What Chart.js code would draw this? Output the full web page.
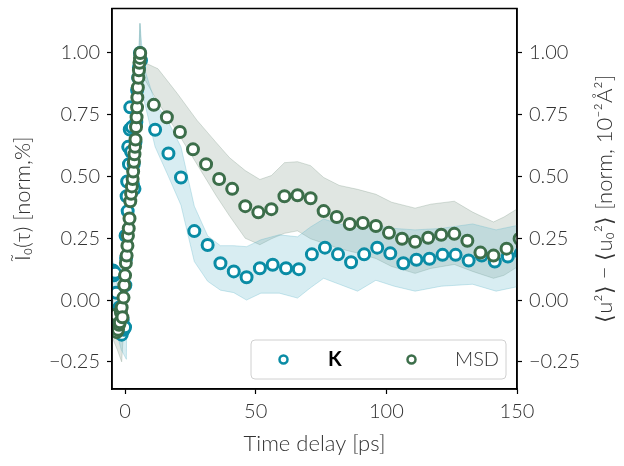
<!DOCTYPE html>
<html lang="en">
<head>
    <meta charset="UTF-8">
    <title>Time delay chart</title>
    <script src="https://cdn.jsdelivr.net/npm/chart.js"></script>
    <style>
        html, body { margin: 0; padding: 0; background: #fff; }
        #wrap { width: 624px; height: 466px; }
    </style>
</head>
<body>
    <div id="wrap"><canvas id="chart" width="624" height="466"></canvas></div>

    <script>
        // K series (blue)
        const kTime = [-4.6, -4.2, -3.8, -3.4, -3.0, -2.6, -2.2, -1.8, -1.3, -0.9, -0.5, 0.0, 0.1, 0.2, 0.4, 0.6, 0.8, 1.0, 1.2, 1.5,
            1.8, 2.0, 2.3, 2.6, 3.0, 3.3, 3.6, 4.0, 4.3, 4.6, 5.0, 5.3, 5.7, 6.1,
            11.5, 16.6, 21.4, 26.5, 31.6, 36.5, 41.6, 46.5, 51.6, 56.5, 61.6, 66.5, 71.5, 76.5, 81.5, 86.5,
            91.5, 96.5, 101.5, 106.5, 111.5, 116.5, 121.5, 126.5, 131.5, 136.5, 141.5, 146.5, 151.5];
        const kValue = [0.12, 0.10, 0.11, 0.03, -0.05, -0.10, -0.03, -0.12, -0.14, -0.08, -0.12, -0.11, 0.06, 0.26, 0.17, 0.42, 0.48, 0.36, 0.62, 0.55,
            0.69, 0.78, 0.60, 0.70, 0.47, 0.55, 0.45, 0.64, 0.72, 0.85, 0.90, 0.94, 1.00, 0.97,
            0.689, 0.593, 0.496, 0.279, 0.223, 0.149, 0.116, 0.092, 0.129, 0.143, 0.129, 0.125, 0.185, 0.212, 0.185, 0.153,
            0.185, 0.212, 0.189, 0.149, 0.163, 0.167, 0.183, 0.183, 0.160, 0.180, 0.156, 0.176, 0.190];

        // MSD series (green)
        const msdTime = [-3.8, -3.2, -2.7, -2.3, -2.0, -1.6, -1.3, -1.0, -0.6, -0.3, 0.0, 0.3, 0.6, 0.9, 1.1, 1.4, 1.7,
            2.0, 2.3, 2.6, 2.9, 3.1, 3.4, 3.6, 3.8, 4.0, 4.2, 4.4, 4.6, 4.7, 4.9, 5.1, 5.3, 5.5, 5.7, 5.8,
            11, 16, 21, 26, 31, 36, 41, 46, 51, 56, 61, 66, 71, 76, 81, 86, 91, 96, 101, 106,
            111, 116, 121, 126, 131, 136, 141, 146, 151];
        const msdValue = [-0.06, -0.13, -0.12, -0.10, -0.09, -0.05, -0.03, -0.07, 0.01, 0.06, 0.10, 0.15, 0.18, 0.22, 0.26, 0.29, 0.33,
            0.40, 0.43, 0.46, 0.49, 0.52, 0.56, 0.59, 0.62, 0.65, 0.70, 0.74, 0.78, 0.82, 0.86, 0.90, 0.93, 0.96, 0.98, 1.00,
            0.79, 0.74, 0.68, 0.61, 0.55, 0.49, 0.45, 0.38, 0.355, 0.368, 0.42, 0.424, 0.412, 0.36, 0.336, 0.308, 0.312, 0.30, 0.272, 0.248,
            0.236, 0.252, 0.264, 0.268, 0.24, 0.192, 0.18, 0.208, 0.248];

        // uncertainty bands
        const kBandTime = [-5, -3, -1.5, 0.5, 1, 3, 5, 5.7, 7, 11.5, 16.6, 21.4, 26.5, 31.6, 36.5, 41.6, 46.5, 52, 59, 66, 71, 76, 82, 89, 96, 103, 111, 121, 133, 142, 151];
        const kBandUpper = [0.18, 0.06, 0.0, 0.20, 0.50, 0.72, 0.95, 1.12, 0.95, 0.80, 0.72, 0.62, 0.38, 0.26, 0.22, 0.22, 0.216, 0.244, 0.264, 0.256, 0.296, 0.328, 0.308, 0.288, 0.30, 0.29, 0.284, 0.29, 0.308, 0.284, 0.304];
        const kBandLower = [0.04, -0.14, -0.20, -0.24, 0.30, 0.40, 0.78, 0.90, 0.82, 0.62, 0.50, 0.384, 0.156, 0.076, 0.04, 0.03, 0.0, 0.028, 0.028, 0.008, 0.05, 0.088, 0.064, 0.036, 0.08, 0.056, 0.036, 0.056, 0.064, 0.036, 0.056];

        const msdBandTime = [-5, -3, -1.3, 1, 3, 5.2, 5.7, 6.2, 7.7, 12.6, 20, 27.5, 35, 40, 46, 51.6, 56, 61, 66, 71, 76, 82, 89, 96, 102, 111, 117, 126, 133, 141, 145, 151];
        const msdBandUpper = [-0.02, -0.05, 0.05, 0.30, 0.60, 0.95, 1.12, 1.00, 0.96, 0.936, 0.836, 0.728, 0.636, 0.576, 0.524, 0.488, 0.504, 0.556, 0.56, 0.544, 0.496, 0.464, 0.448, 0.428, 0.396, 0.372, 0.388, 0.40, 0.356, 0.316, 0.336, 0.375];
        const msdBandLower = [-0.15, -0.20, -0.25, 0.15, 0.40, 0.75, 0.90, 0.90, 0.89, 0.80, 0.68, 0.55, 0.42, 0.34, 0.25, 0.224, 0.248, 0.27, 0.28, 0.248, 0.23, 0.208, 0.19, 0.168, 0.136, 0.108, 0.128, 0.144, 0.116, 0.088, 0.10, 0.14];

        const xTicks = [0, 50, 100, 150];
        const yTicks = [-0.25, 0, 0.25, 0.5, 0.75, 1.0];

        const FONT = 'Lato';
        const kColor = 'rgb(10,140,165)';
        const msdColor = 'rgb(60,110,74)';

        const zip = (xs, ys) => xs.map((x, i) => ({ x: x, y: ys[i] }));
        const fmt = v => (v < 0 ? '\u2212' : '') + Math.abs(v).toFixed(2);

        // draws the box, axis titles and legend like matplotlib does
        const extras = {
            id: 'extras',
            afterDraw(chart) {
                const ctx = chart.ctx;
                const a = chart.chartArea;
                ctx.save();
                ctx.strokeStyle = '#000';
                ctx.lineWidth = 1.5;
                ctx.strokeRect(a.left, a.top, a.right - a.left, a.bottom - a.top);

                ctx.fillStyle = '#333';
                ctx.font = '300 22px ' + FONT;
                ctx.textAlign = 'center';
                ctx.textBaseline = 'middle';
                const cy = (a.top + a.bottom) / 2;
                ctx.fillText('Time delay [ps]', (a.left + a.right) / 2, 444);

                ctx.save();
                ctx.translate(23, cy);
                ctx.rotate(-Math.PI / 2);
                ctx.fillText('\u0128\u2080(\u03C4) [norm,%]', 0, 0);
                ctx.restore();

                ctx.save();
                ctx.translate(605, cy);
                ctx.rotate(-Math.PI / 2);
                ctx.fillText('\u27E8u\u00B2\u27E9 \u2212 \u27E8u\u2080\u00B2\u27E9 [norm, 10\u207B\u00B2\u00C5\u00B2]', 0, 0);
                ctx.restore();

                // legend
                ctx.fillStyle = 'rgba(255,255,255,0.85)';
                ctx.strokeStyle = '#d0d0d0';
                ctx.lineWidth = 1;
                ctx.beginPath();
                ctx.roundRect(251, 340, 255, 39, 4);
                ctx.fill();
                ctx.stroke();

                const marker = (x, color) => {
                    ctx.beginPath();
                    ctx.arc(x, 359.5, 4, 0, Math.PI * 2);
                    ctx.fillStyle = '#fff';
                    ctx.fill();
                    ctx.lineWidth = 2.5;
                    ctx.strokeStyle = color;
                    ctx.stroke();
                };
                marker(283.5, kColor);
                marker(411.5, msdColor);

                ctx.textAlign = 'left';
                ctx.fillStyle = '#000';
                ctx.font = 'bold 20px ' + FONT;
                ctx.fillText('K', 328, 360);
                ctx.fillStyle = '#333';
                ctx.font = '300 20px ' + FONT;
                ctx.fillText('MSD', 455, 360);
                ctx.restore();
            }
        };

        const tickFont = { family: FONT, size: 20, weight: '300' };
        const yAxis = (pos, width) => ({
            type: 'linear',
            position: pos,
            min: -0.36,
            max: 1.18,
            afterBuildTicks: s => { s.ticks = yTicks.map(v => ({ value: v })); },
            afterFit: s => { s.width = width; s.paddingTop = 0; s.paddingBottom = 0; },
            ticks: { font: tickFont, color: '#333', padding: 7, callback: fmt },
            grid: { drawOnChartArea: false, tickLength: 5, color: '#000', tickWidth: 1.2 },
            border: { color: '#000', width: 1.5 }
        });

        new Chart(document.getElementById('chart'), {
            type: 'line',
            data: {
                datasets: [
                    {
                        data: zip(msdTime, msdValue), showLine: false, order: 1, clip: 0,
                        pointRadius: 5.5, pointBorderWidth: 3, pointBackgroundColor: '#fff', pointBorderColor: msdColor
                    },
                    {
                        data: zip(kTime, kValue), showLine: false, order: 2, clip: 0,
                        pointRadius: 5.5, pointBorderWidth: 3, pointBackgroundColor: '#fff', pointBorderColor: kColor
                    },
                    {
                        data: zip(kBandTime, kBandUpper), order: 10, clip: 0, pointRadius: 0, borderWidth: 1,
                        borderColor: 'rgba(91,179,199,0.3)', backgroundColor: 'rgba(91,179,199,0.24)', fill: '+1'
                    },
                    {
                        data: zip(kBandTime, kBandLower), order: 10, clip: 0, pointRadius: 0, borderWidth: 1,
                        borderColor: 'rgba(91,179,199,0.3)', fill: false
                    },
                    {
                        data: zip(msdBandTime, msdBandUpper), order: 11, clip: 0, pointRadius: 0, borderWidth: 1,
                        borderColor: 'rgba(100,130,110,0.25)', backgroundColor: 'rgba(100,130,110,0.2)', fill: '+1'
                    },
                    {
                        data: zip(msdBandTime, msdBandLower), order: 11, clip: 0, pointRadius: 0, borderWidth: 1,
                        borderColor: 'rgba(100,130,110,0.25)', fill: false
                    }
                ]
            },
            options: {
                responsive: false,
                animation: false,
                layout: { padding: { top: 4, left: 0, right: 0, bottom: 0 } },
                plugins: { legend: { display: false }, tooltip: { enabled: false } },
                scales: {
                    x: {
                        type: 'linear',
                        min: -5,
                        max: 150,
                        afterBuildTicks: s => { s.ticks = xTicks.map(v => ({ value: v })); },
                        afterFit: s => { s.height = 77; s.paddingLeft = 0; s.paddingRight = 0; },
                        ticks: { font: tickFont, color: '#333', padding: 6, maxRotation: 0 },
                        grid: { drawOnChartArea: false, tickLength: 5, color: '#000', tickWidth: 1.2 },
                        border: { color: '#000', width: 1.5 }
                    },
                    y: yAxis('left', 112),
                    y2: yAxis('right', 107)
                }
            },
            plugins: [extras]
        });
    </script>
</body>
</html>
